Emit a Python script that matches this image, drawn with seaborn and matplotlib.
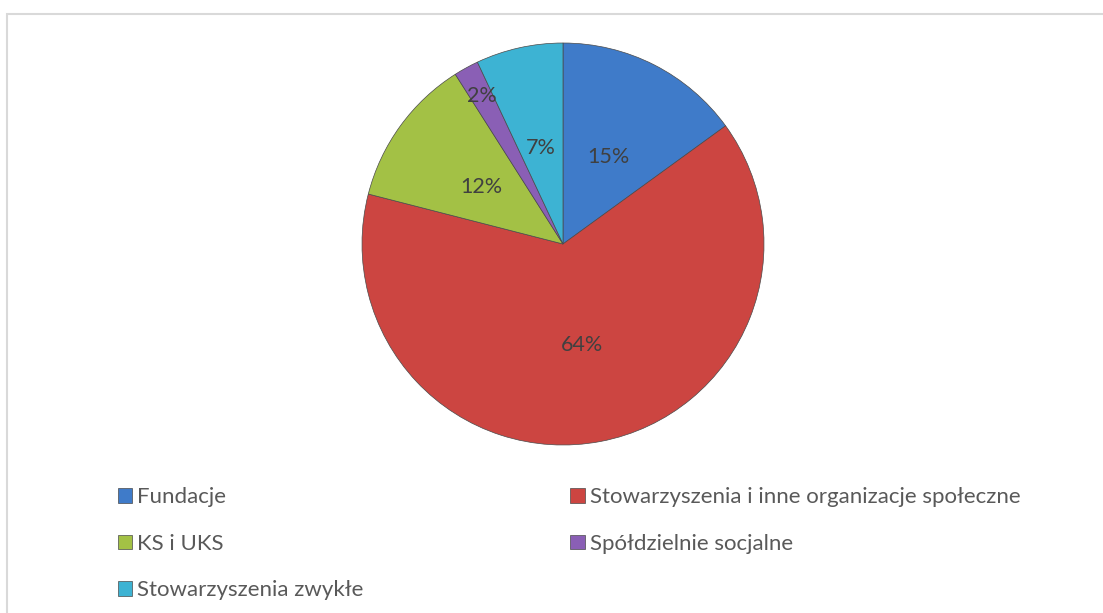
import matplotlib.pyplot as plt
import seaborn as sns
from matplotlib.patches import Rectangle

categories = ["Fundacje", "Stowarzyszenia i inne organizacje społeczne", "KS i UKS",
              "Spółdzielnie socjalne", "Stowarzyszenia zwykłe"]
shares = [15, 64, 12, 2, 7]
colors = ["#3f7bc9", "#cc4541", "#a3c145", "#8a5fb5", "#3db3d3"]

sns.set_theme(style="white")
plt.rcParams["font.family"] = ["Lato", "DejaVu Sans"]

fig = plt.figure(figsize=(11.03, 6.13), dpi=100)

# light frame like the chart area border
fig.patches.append(Rectangle((7 / 1103, -0.1), 1.2, 1 - 14 / 613 + 0.1,
                             transform=fig.transFigure, fill=False,
                             edgecolor="#d9d9d9", linewidth=1.5))

ax = fig.add_axes([(563 - 201) / 1103, (613 - 445) / 613, 402 / 1103, 402 / 613])
wedges, texts, autotexts = ax.pie(shares, colors=sns.color_palette(colors),
                                  startangle=90, counterclock=False,
                                  autopct="%d%%", pctdistance=0.5,
                                  wedgeprops=dict(edgecolor="#4a4a4a", linewidth=0.5),
                                  textprops=dict(fontsize=15.5, color="#404040"))
# small slice label placed further out, others nudged a bit down
for i, t in enumerate(autotexts):
    x, y = t.get_position()
    if i == 3:
        t.set_position((x * 1.68, y * 1.68))
    else:
        t.set_position((x, y - 0.012))
ax.set_xlim(-1, 1)
ax.set_ylim(-1, 1)
ax.set_aspect("equal")

order = [0, 2, 4, 1, 3]
fig.legend([wedges[i] for i in order], [categories[i] for i in order],
           ncol=2, loc="upper left", bbox_to_anchor=(118 / 1103, 1 - 487 / 613),
           frameon=False, fontsize=16, labelcolor="#595959",
           handlelength=0.64, handleheight=0.64, handletextpad=0.23,
           labelspacing=1.2, columnspacing=9.3, borderpad=0, borderaxespad=0)

plt.savefig("out.png", dpi=100)
